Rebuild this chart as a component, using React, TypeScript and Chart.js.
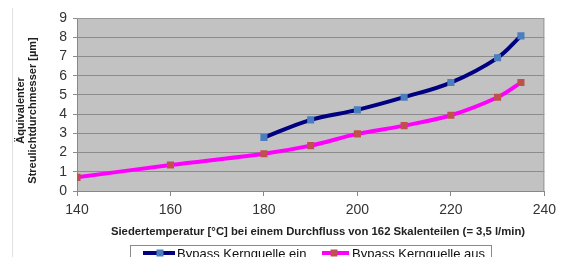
import React, { useEffect, useRef } from "react";
import { Chart, registerables } from "chart.js";

Chart.register(...registerables);

const temps = [140, 160, 180, 190, 200, 210, 220, 230, 235];
const bypassEin: (number | null)[] = [null, null, 2.78, 3.7, 4.22, 4.88, 5.64, 6.93, 8.07];
const bypassAus = [0.71, 1.35, 1.94, 2.36, 2.97, 3.4, 3.94, 4.88, 5.64];
const labelEin = "Bypass Kernquelle ein";
const labelAus = "Bypass Kernquelle aus";
const xTitle = "Siedertemperatur [°C] bei einem Durchfluss von 162 Skalenteilen (= 3,5 l/min)";
const yTitle = ["Äquivalenter", "Streulichtdurchmesser [µm]"];

const FONT = "'Liberation Sans', Arial, sans-serif";

export default function App() {
  const ref = useRef<HTMLCanvasElement>(null);
  useEffect(() => {
    const deco = {
      id: "deco",
      beforeDraw(chart: any) {
        const { ctx, chartArea: a } = chart;
        ctx.save();
        ctx.fillStyle = "#c2c2c2";
        ctx.fillRect(a.left, a.top, a.right - a.left, a.bottom - a.top);
        ctx.strokeStyle = "#e2e2e2";
        ctx.lineWidth = 1;
        ctx.beginPath();
        ctx.moveTo(12.5, 8);
        ctx.lineTo(12.5, 257);
        ctx.stroke();
        ctx.restore();
      },
      afterDraw(chart: any) {
        const { ctx, chartArea: a } = chart;
        ctx.save();
        ctx.strokeStyle = "#9a9a9a";
        ctx.lineWidth = 1;
        ctx.beginPath();
        ctx.moveTo(a.left, a.top + 0.5);
        ctx.lineTo(a.right - 0.5, a.top + 0.5);
        ctx.lineTo(a.right - 0.5, a.bottom);
        ctx.stroke();
        ctx.fillStyle = "#222";
        ctx.font = `bold 11px ${FONT}`;
        ctx.textAlign = "center";
        ctx.textBaseline = "middle";
        const cy = (a.top + a.bottom) / 2 + 6;
        [21, 33].forEach((x, i) => {
          ctx.save();
          ctx.translate(x, cy);
          ctx.rotate(-Math.PI / 2);
          ctx.fillText(yTitle[i], 0, 0);
          ctx.restore();
        });
        ctx.font = `bold 11.3px ${FONT}`;
        ctx.fillText(xTitle, 318, 232);
        ctx.strokeStyle = "#8a8a8a";
        ctx.strokeRect(130.5, 245.5, 361, 22);
        const items = [
          { x0: 143, x1: 175, m: 160, tx: 177, line: "#000080", mk: "#4a7ebf", label: labelEin },
          { x0: 322, x1: 349, m: 334, tx: 352, line: "#ff00ff", mk: "#c0504d", label: labelAus },
        ];
        ctx.font = `13px ${FONT}`;
        ctx.textAlign = "left";
        items.forEach((it) => {
          ctx.strokeStyle = it.line;
          ctx.lineWidth = 4;
          ctx.beginPath();
          ctx.moveTo(it.x0, 253);
          ctx.lineTo(it.x1, 253);
          ctx.stroke();
          ctx.fillStyle = it.mk;
          ctx.fillRect(it.m - 3.5, 249.5, 7, 7);
          ctx.fillStyle = "#111";
          ctx.fillText(it.label, it.tx, 254);
        });
        ctx.restore();
      },
    };
    const chart = new Chart(ref.current!, {
      type: "line",
      data: {
        labels: temps,
        datasets: [
          {
            label: labelEin,
            data: temps.map((t, i) => ({ x: t, y: bypassEin[i] })) as any,
            borderColor: "#000080",
            backgroundColor: "#4a7ebf",
            pointBackgroundColor: "#4a7ebf",
            pointBorderWidth: 0,
            pointStyle: "rect",
            pointRadius: 5,
            borderWidth: 4,
            tension: 0.35,
            spanGaps: false,
          },
          {
            label: labelAus,
            data: temps.map((t, i) => ({ x: t, y: bypassAus[i] })),
            borderColor: "#ff00ff",
            backgroundColor: "#c0504d",
            pointBackgroundColor: "#c0504d",
            pointBorderWidth: 0,
            pointStyle: "rect",
            pointRadius: 5,
            borderWidth: 4,
            tension: 0.35,
          },
        ],
      },
      options: {
        animation: false,
        responsive: false,
        maintainAspectRatio: false,
        layout: { padding: { top: 18, right: 16, left: 0, bottom: 0 } },
        plugins: { legend: { display: false }, tooltip: { enabled: false } },
        scales: {
          x: {
            type: "linear",
            min: 140,
            max: 240,
            afterFit: (s: any) => {
              s.height = 66;
            },
            ticks: { stepSize: 20, autoSkip: false, font: { size: 14, family: FONT }, color: "#333", padding: 6 },
            grid: { drawOnChartArea: false, drawTicks: true, tickLength: 5, color: "#888" },
            border: { display: true, color: "#888" },
          },
          y: {
            min: 0,
            max: 9,
            afterFit: (s: any) => {
              s.width = 77;
            },
            ticks: { stepSize: 1, autoSkip: false, font: { size: 14, family: FONT }, color: "#333", padding: 6 },
            grid: { color: "#8c8c8c", tickLength: 4 },
            border: { display: true, color: "#888" },
          },
        },
      },
      plugins: [deco],
    } as any);
    return () => chart.destroy();
  }, []);
  return (
    <div style={{ position: "fixed", left: 0, top: 0, width: 562, height: 257, background: "#fff" }}>
      <canvas ref={ref} width={562} height={257} style={{ width: 562, height: 257 }} />
    </div>
  );
}
